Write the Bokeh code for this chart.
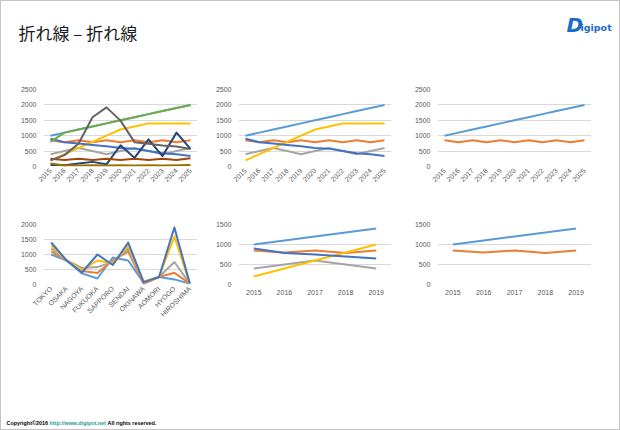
from math import pi
from bokeh.plotting import figure
from bokeh.layouts import column, row
from bokeh.models import Range1d, FactorRange, FixedTicker, Label
from bokeh.embed import file_html
from bokeh.resources import INLINE

# ---------------- data ----------------
TITLE = "折れ線 – 折れ線"
LOGO_BIG = "D"
LOGO_REST = "igipot"
COPY_1 = "Copyright©2016"
COPY_URL = "http://www.digipot.net"
COPY_2 = "All rights reserved."

YEARS = ["2015", "2016", "2017", "2018", "2019", "2020", "2021", "2022", "2023", "2024", "2025"]
YEARS5 = ["2015", "2016", "2017", "2018", "2019"]
CITIES = ["TOKYO", "OSAKA", "NAGOYA", "FUKUOKA", "SAPPORO", "SENDAI",
          "OKINAWA", "AOMORI", "HYOGO", "HIROSHIMA"]

TICKS_2500 = [0, 500, 1000, 1500, 2000, 2500]
TICKS_2000 = [0, 500, 1000, 1500, 2000]
TICKS_1500 = [0, 500, 1000, 1500]

# yearly series (2015-2025)
s_lightblue = [1000, 1100, 1200, 1300, 1400, 1500, 1600, 1700, 1800, 1900, 2000]
s_orange = [850, 790, 850, 790, 850, 790, 850, 790, 850, 790, 850]
s_gray = [400, 500, 600, 500, 400, 500, 600, 500, 400, 500, 600]
s_gold = [200, 400, 600, 800, 1000, 1200, 1300, 1400, 1400, 1400, 1400]
s_blue = [900, 790, 750, 700, 660, 600, 580, 500, 430, 400, 340]
s_green = [800, 1100, 1200, 1300, 1400, 1500, 1600, 1700, 1800, 1900, 2000]
s_navy = [50, 40, 100, 150, 70, 690, 280, 880, 340, 1100, 570]
s_brown = [250, 210, 250, 210, 250, 210, 250, 210, 250, 210, 270]
s_darkgray = [200, 370, 740, 1600, 1920, 1490, 790, 740, 680, 650, 570]
s_darkgold = [100, 30, 30, 40, 30, 40, 30, 40, 30, 40, 50]

# five-year series (2015-2019)
f_lightblue = [1000, 1100, 1200, 1300, 1400]
f_orange = [850, 800, 850, 790, 850]
f_gray = [400, 500, 600, 500, 400]
f_gold = [200, 400, 600, 800, 1000]
f_blue = [900, 790, 750, 700, 650]

# city series
c_lightblue = [1000, 800, 370, 200, 900, 800, 50, 250, 170, 30]
c_orange = [1100, 800, 450, 380, 800, 1100, 20, 250, 390, 30]
c_gray = [1200, 800, 550, 580, 750, 1200, 60, 250, 750, 30]
c_gold = [1300, 800, 480, 800, 700, 1300, 100, 250, 1600, 30]
c_blue = [1400, 800, 400, 1000, 650, 1400, 80, 250, 1900, 30]

COL_LIGHTBLUE = "#5B9BD5"
COL_ORANGE = "#ED7D31"
COL_GRAY = "#A5A5A5"
COL_GOLD = "#FFC000"
COL_BLUE = "#4472C4"
COL_GREEN = "#70AD47"
COL_NAVY = "#264478"
COL_BROWN = "#9E480E"
COL_DARKGRAY = "#636363"
COL_DARKGOLD = "#997300"

LABEL_FONT = "Liberation Sans"
LABEL_COLOR = "#595959"
GRID_COLOR = "#d9d9d9"


def chart(factors, series, colors, ymax, ticks, width, height,
          left, right, top, bottom, rotate, xstandoff):
    p = figure(width=width, height=height,
               x_range=FactorRange(*factors), y_range=Range1d(0, ymax),
               output_backend="svg", toolbar_location=None,
               min_border_left=left, min_border_right=right,
               min_border_top=top, min_border_bottom=bottom)
    p.outline_line_color = None
    p.xgrid.visible = False
    p.ygrid.grid_line_color = GRID_COLOR
    p.ygrid.grid_line_width = 1
    p.yaxis.ticker = FixedTicker(ticks=ticks)
    for ax in (p.xaxis[0], p.yaxis[0]):
        ax.major_tick_line_color = None
        ax.minor_tick_line_color = None
        ax.major_tick_out = 0
        ax.major_tick_in = 0
        ax.major_label_text_font = LABEL_FONT
        ax.major_label_text_font_size = "7px"
        ax.major_label_text_color = LABEL_COLOR
    p.yaxis.axis_line_color = None
    p.yaxis.major_label_standoff = 7
    p.xaxis.axis_line_color = None
    p.xaxis.major_label_standoff = xstandoff
    p.xaxis.major_label_orientation = pi / 4 if rotate else "horizontal"
    for vals, col in zip(series, colors):
        p.line(x=factors, y=vals, line_color=col, line_width=2, line_join="round")
    return p


ALL_SERIES = [s_lightblue, s_orange, s_gray, s_gold, s_blue, s_green,
              s_navy, s_brown, s_darkgray, s_darkgold]
ALL_COLORS = [COL_LIGHTBLUE, COL_ORANGE, COL_GRAY, COL_GOLD, COL_BLUE, COL_GREEN,
              COL_NAVY, COL_BROWN, COL_DARKGRAY, COL_DARKGOLD]
FIVE_COLORS = [COL_LIGHTBLUE, COL_ORANGE, COL_GRAY, COL_GOLD, COL_BLUE]

p1 = chart(YEARS, ALL_SERIES, ALL_COLORS, 2500, TICKS_2500, 207, 120, 42, 11, 9, 34, True, 3)
p2 = chart(YEARS, [s_lightblue, s_orange, s_gray, s_gold, s_blue], FIVE_COLORS,
           2500, TICKS_2500, 200, 120, 30, 17, 9, 34, True, 3)
p3 = chart(YEARS, [s_lightblue, s_orange], [COL_LIGHTBLUE, COL_ORANGE],
           2500, TICKS_2500, 211, 120, 29, 28, 9, 34, True, 3)
p4 = chart(CITIES, [c_lightblue, c_orange, c_gray, c_gold, c_blue], FIVE_COLORS,
           2000, TICKS_2000, 207, 140, 42, 11, 24, 56, True, 3)
p5 = chart(YEARS5, [f_lightblue, f_orange, f_gray, f_gold, f_blue], FIVE_COLORS,
           1500, TICKS_1500, 200, 140, 30, 17, 24, 30, False, 5)
p6 = chart(YEARS5, [f_lightblue, f_orange], [COL_LIGHTBLUE, COL_ORANGE],
           1500, TICKS_1500, 211, 140, 29, 28, 24, 30, False, 5)


def blank(width, height):
    p = figure(width=width, height=height, x_range=Range1d(0, width),
               y_range=Range1d(0, height), output_backend="svg",
               toolbar_location=None, x_axis_location=None, y_axis_location=None,
               min_border=0)
    p.outline_line_color = None
    p.grid.visible = False
    return p


header = blank(618, 79)
header.add_layout(Label(x=17, y=48, x_units="screen", y_units="screen", text=TITLE,
                        text_font="Noto Sans CJK JP", text_font_size="17px",
                        text_baseline="middle", text_color="#1a1a1a"))
header.add_layout(Label(x=565, y=56, x_units="screen", y_units="screen", text=LOGO_BIG,
                        text_font="DejaVu Sans", text_font_style="bold italic",
                        text_font_size="20px", text_baseline="middle",
                        text_color="#1a6cc8"))
header.add_layout(Label(x=579, y=53, x_units="screen", y_units="screen", text=LOGO_REST,
                        text_font="DejaVu Sans", text_font_style="bold",
                        text_font_size="9.5px", text_baseline="middle",
                        text_color="#1a6cc8"))

footer = blank(618, 89)
footer.add_layout(Label(x=5, y=7, x_units="screen", y_units="screen", text=COPY_1,
                        text_font="Liberation Sans", text_font_style="bold",
                        text_font_size="5.4px", text_baseline="middle",
                        text_color="#000000"))
footer.add_layout(Label(x=48, y=7, x_units="screen", y_units="screen", text=COPY_URL,
                        text_font="Liberation Sans", text_font_style="bold",
                        text_font_size="5.4px", text_baseline="middle",
                        text_color="#1f9a9a"))
footer.add_layout(Label(x=106, y=7, x_units="screen", y_units="screen", text=COPY_2,
                        text_font="Liberation Sans", text_font_style="bold",
                        text_font_size="5.4px", text_baseline="middle",
                        text_color="#000000"))

layout = column(header, row(p1, p2, p3), row(p4, p5, p6), footer,
                styles={"border": "1px solid #c4c4c4"})

open("out.html", "w").write(file_html(layout, INLINE))
